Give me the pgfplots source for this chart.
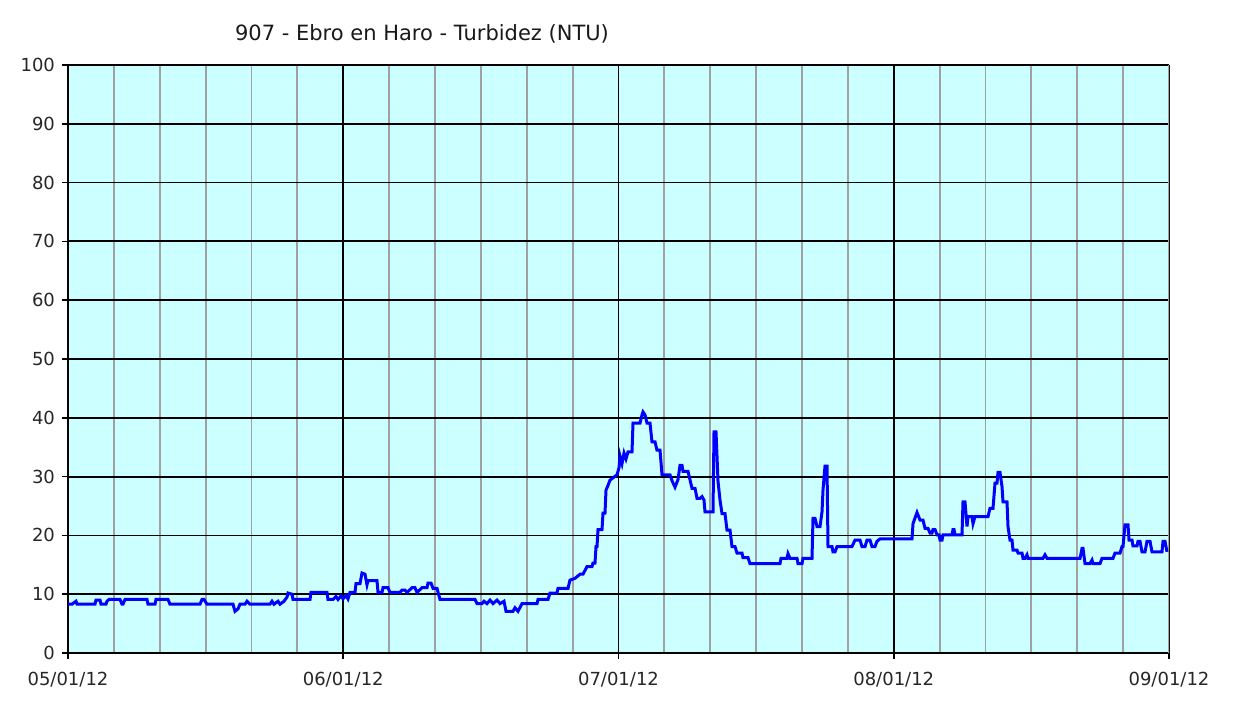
\documentclass[border=0pt]{standalone}
\usepackage{fontspec}
\setmainfont{DejaVu Sans}
\usepackage{pgfplots}
\usepackage{pgfplotstable}
\pgfplotsset{compat=1.18}
\definecolor{bgc}{HTML}{CCFFFF}
\definecolor{mgrid}{HTML}{A0A0A0}
\definecolor{serie}{HTML}{0000FF}

% d = position along the time axis (0 = 05/01/12, 1101 = 09/01/12, one month = 275.25), v = turbidity (NTU)
\pgfplotstableread{
d v
0 8.3
4 8.3
8 8.8
9 8.3
27 8.3
28 9.0
32 9.0
33 8.3
38 8.3
39 8.8
41 9.1
52 9.1
54 8.3
55 8.3
57 9.1
79 9.1
80 8.3
87 8.3
88 9.1
100 9.1
102 8.3
132 8.3
134 9.1
136 9.1
139 8.3
165 8.3
167 7.1
170 7.5
172 8.3
177 8.3
179 8.8
182 8.3
202 8.3
204 8.8
206 8.3
210 8.8
212 8.3
216 8.8
219 9.5
220 10.2
224 10.0
225 9.1
242 9.1
243 10.3
259 10.3
260 9.1
265 9.1
268 9.6
270 9.1
273 9.7
275 9.2
278 9.8
280 9.2
282 10.3
287 10.3
288 11.8
292 11.8
294 13.6
297 13.4
299 11.6
300 12.3
309 12.3
310 10.3
314 10.3
315 11.1
320 11.1
322 10.3
332 10.3
334 10.7
337 10.7
339 10.3
344 11.1
347 11.1
349 10.3
354 11.1
359 11.1
360 11.9
363 11.9
365 11.0
369 11.0
372 9.1
407 9.1
409 8.4
414 8.4
416 8.8
419 8.4
422 9.0
425 8.4
429 9.0
432 8.4
436 8.8
438 7.1
445 7.1
447 7.7
450 7.1
454 8.4
469 8.4
470 9.1
480 9.1
482 10.2
489 10.2
490 11.0
500 11.0
502 12.4
507 12.7
512 13.4
515 13.4
519 14.7
524 14.7
525 15.3
527 15.3
528 18.1
529 18.1
530 21.0
534 21.0
535 23.8
537 23.8
538 27.7
540 28.5
542 29.4
549 30.3
551 31.5
552 33.5
554 32.2
556 34.0
558 33.0
560 34.2
564 34.2
565 39.1
572 39.1
574 40.5
575 41.0
577 40.5
579 39.1
582 39.1
584 35.9
587 35.9
589 34.5
592 34.5
594 30.3
602 30.3
604 29.3
607 28.2
610 29.5
612 31.9
614 31.9
615 30.9
620 30.9
624 28.0
627 28.0
629 26.3
632 26.3
634 26.6
636 26.0
637 24.0
645 24.0
646 37.6
648 37.6
649 33.5
650 29.2
652 26.0
654 23.7
657 23.7
659 20.9
662 20.9
664 18.1
667 18.1
669 17.0
674 17.0
675 16.2
680 16.2
682 15.2
712 15.2
713 16.1
719 16.1
720 16.9
722 16.1
729 16.1
730 15.2
734 15.2
735 16.1
744 16.1
745 22.9
747 22.9
749 21.5
752 21.5
754 24.0
755 27.7
757 31.8
759 31.8
760 18.1
764 18.1
765 17.2
767 17.2
769 18.1
784 18.1
787 19.2
792 19.2
794 18.1
797 18.1
799 19.2
802 19.2
804 18.1
807 18.1
809 19.0
812 19.4
844 19.4
845 22.0
849 23.9
852 22.6
855 22.6
857 21.2
860 21.2
862 20.4
864 20.4
865 21.0
867 21.0
869 20.1
871 20.1
872 19.2
874 19.2
875 20.1
884 20.1
885 21.0
886 21.0
887 20.1
894 20.1
895 25.7
897 25.7
899 21.5
900 23.2
904 23.2
905 22.0
907 23.2
920 23.2
922 24.6
925 24.6
927 28.9
929 28.9
930 30.7
932 30.7
934 28.3
935 25.7
939 25.7
940 21.5
942 19.2
944 19.2
945 17.5
949 17.5
950 17.0
954 17.0
955 16.1
957 16.1
959 16.7
960 16.1
975 16.1
977 16.7
979 16.1
1012 16.1
1014 17.8
1015 17.8
1017 15.2
1022 15.2
1024 15.8
1025 15.2
1032 15.2
1034 16.1
1045 16.1
1047 17.0
1052 17.0
1054 18.1
1055 18.1
1057 21.8
1060 21.8
1061 19.2
1064 19.2
1065 18.2
1069 18.2
1070 19.0
1072 19.0
1074 17.2
1077 17.2
1079 19.0
1082 19.0
1084 17.2
1094 17.2
1095 19.0
1097 19.0
1099 17.2
}\turbidez

\begin{document}
\begin{tikzpicture}
\begin{axis}[
  at={(34pt,24.5pt)}, anchor=south west,
  scale only axis, width=550.5pt, height=294pt,
  xmin=0, xmax=1101, ymin=0, ymax=100,
  xtick={0,275.25,550.5,825.75,1101},
  xticklabels={05/01/12,06/01/12,07/01/12,08/01/12,09/01/12},
  minor x tick num=5,
  ytick={0,10,...,100},
  /pgf/number format/assume math mode=true,
  grid=both,
  major grid style={black, line width=0.9pt},
  minor grid style={mgrid, line width=0.9pt},
  axis background/.style={fill=bgc},
  axis lines*=left,
  axis line style={black, line width=0.9pt},
  tick align=outside,
  major tick length=3pt, minor tick length=0pt,
  tick style={black, line width=0.8pt},
  tick label style={font=\fontsize{9}{10}\selectfont, text=black!85},
  xticklabel style={yshift=-3pt},
]
\draw[mgrid, line width=0.9pt] (axis cs:1101,0) -- (axis cs:1101,100);
\addplot[serie, line width=1.5pt, no markers] table[x=d, y=v]{\turbidez};
\end{axis}
\node[font=\fontsize{10.5}{12}\selectfont, text=black!90] at (211pt,334pt) {907 - Ebro en Haro - Turbidez (NTU)};
\pgfresetboundingbox
\useasboundingbox (0,0) rectangle (623pt,351pt);
\end{tikzpicture}
\end{document}
